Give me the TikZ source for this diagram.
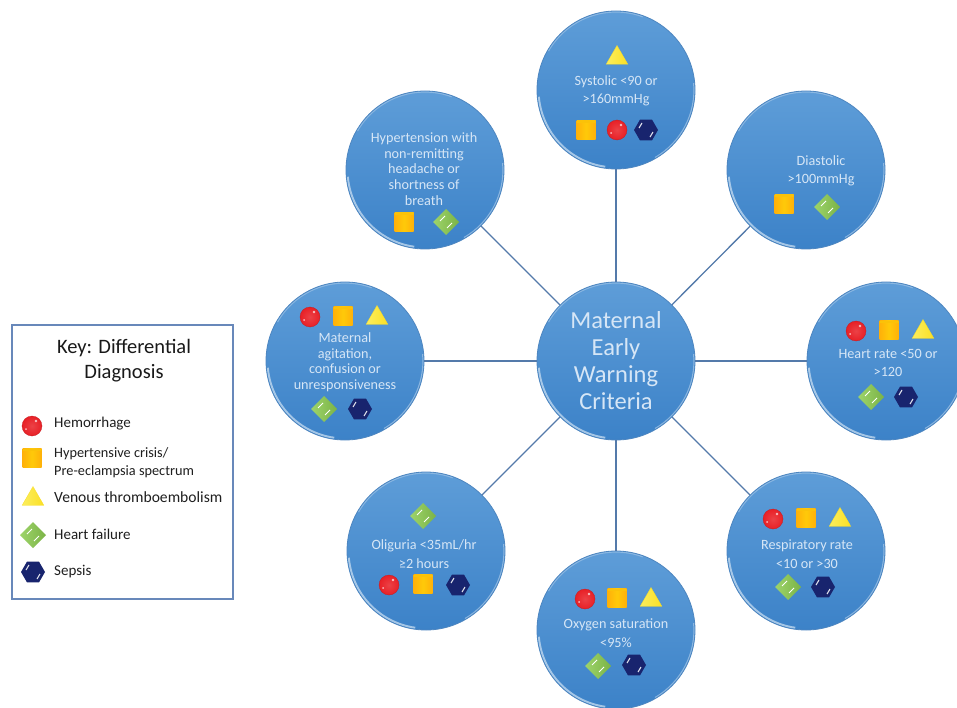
\documentclass[tikz,border=0pt]{standalone}
\usepackage{fontspec}
\setmainfont{Carlito}
\usetikzlibrary{shapes.geometric}
\definecolor{rimc}{RGB}{78,134,192}
\definecolor{topc}{RGB}{94,157,216}
\definecolor{botc}{RGB}{60,130,200}
\definecolor{linec}{RGB}{84,122,170}
\definecolor{txtc}{RGB}{214,230,246}
\definecolor{boxc}{RGB}{104,136,186}
\definecolor{redc}{RGB}{232,32,38}
\definecolor{orc}{RGB}{255,192,10}
\definecolor{yelc}{RGB}{250,232,40}
\definecolor{grnc}{RGB}{140,204,80}
\definecolor{navc}{RGB}{24,36,110}
\tikzset{
  x=1pt,y=-1pt,
  crit/.style={circle,minimum size=158pt,inner sep=0pt,top color=topc,bottom color=botc,draw=rimc,line width=0.8pt,
    path picture={
      \draw[white!65!topc,line width=2pt,opacity=.75]
        ([shift={(185:77.5pt)}]path picture bounding box.center) arc[start angle=185,end angle=262,radius=77.5pt];
      \draw[white!55!topc,line width=1.2pt,opacity=.6]
        ([shift={(5:78pt)}]path picture bounding box.center) arc[start angle=5,end angle=-60,radius=78pt];
      \draw[white!55!topc,line width=1.2pt,opacity=.5]
        ([shift={(150:78pt)}]path picture bounding box.center) arc[start angle=150,end angle=70,radius=78pt];
    }},
  conn/.style={draw=linec,line width=1.3pt},
  ctext/.style={text=txtc,align=center,font=\fontsize{14.2}{18.5}\selectfont,inner sep=0pt},
  sym/.style={inner sep=0pt,outer sep=0pt},
  mred/.style={sym,circle,minimum size=20pt,shading=radial,inner color=redc!85!white,outer color=redc,draw=redc!85!black,line width=.3pt,
    path picture={\fill[white,opacity=.7] ([shift={(4pt,5pt)}]path picture bounding box.center) circle[radius=1.4pt];
      \fill[white,opacity=.7] ([shift={(-6pt,-3pt)}]path picture bounding box.center) circle[radius=1pt];}},
  morg/.style={sym,rectangle,minimum size=19pt,left color=orc!92!red,right color=orc!92!red,middle color=orc!85!yellow,
    path picture={\fill[yellow!55!orange] ([shift={(-9.5pt,7pt)}]path picture bounding box.center) rectangle ++(19pt,2.5pt);}},
  myel/.style={sym,regular polygon,regular polygon sides=3,minimum size=25pt,left color=yelc!75!white,right color=yelc!92!orange,draw=yelc!90!orange,line width=.3pt},
  mgrn/.style={sym,diamond,minimum width=26pt,minimum height=26pt,left color=grnc!85!white,right color=grnc!88!black,
    path picture={\draw[white,line width=1pt] ([shift={(-6pt,1pt)}]path picture bounding box.center) -- ++(5pt,5pt);
      \draw[white,line width=1pt] ([shift={(1pt,-6pt)}]path picture bounding box.center) -- ++(5pt,5pt);}},
  mnav/.style={sym,regular polygon,regular polygon sides=6,minimum size=24pt,fill=navc,
    path picture={\draw[white!85!navc,line width=1.1pt] ([shift={(-7pt,2pt)}]path picture bounding box.center) -- ++(3pt,5pt);
      \draw[white!85!navc,line width=1.1pt] ([shift={(4pt,-7pt)}]path picture bounding box.center) -- ++(3pt,5pt);}},
  keybox/.style={rectangle,draw=boxc,line width=1.2pt,fill=white,minimum width=221pt,minimum height=274pt,inner sep=0pt},
  keytitle/.style={align=center,font=\fontsize{20.5}{25}\selectfont,text=black!90,inner sep=0pt},
  keytext/.style={anchor=west,align=left,font=\fontsize{15}{18}\selectfont,text=black!88,inner sep=0pt},
}
\begin{document}
\begin{tikzpicture}
\useasboundingbox (0,0) rectangle (957,708);
% circles
\node[crit] (ctr) at (616,361) {};
\node[crit] (top) at (616,90) {};
\node[crit] (dia) at (806,170) {};
\node[crit] (hr) at (886,361) {};
\node[crit] (rr) at (806,551) {};
\node[crit] (oxy) at (616,630) {};
\node[crit] (oli) at (426,551) {};
\node[crit] (agi) at (345,361) {};
\node[crit] (hyp) at (425,170) {};
% connectors
\foreach \n in {top,dia,hr,rr,oxy,oli,agi,hyp}{\draw[conn] (ctr) -- (\n);}
% centre text
\node[ctext,font=\fontsize{24.5}{27}\selectfont] (ctrt) at (616,361) {Maternal\\Early\\Warning\\Criteria};
% top
\node[myel] (t1) at (617,58) {};
\node[ctext] (t2) at (616,91) {Systolic <90 or\\>160mmHg};
\node[morg] (t3) at (586,130) {};
\node[mred] (t4) at (617,130) {};
\node[mnav] (t5) at (646,130) {};
% diastolic
\node[ctext] (d1) at (821,171) {Diastolic\\>100mmHg};
\node[morg] (d2) at (784,204) {};
\node[mgrn] (d3) at (827,207) {};
% heart rate
\node[mred] (h1) at (856,331) {};
\node[morg] (h2) at (889,330) {};
\node[myel] (h3) at (923,332) {};
\node[ctext] (h4) at (888,363) {Heart rate <50 or\\>120};
\node[mgrn] (h5) at (871,397) {};
\node[mnav] (h6) at (906,397) {};
% resp
\node[mred] (r1) at (773,519) {};
\node[morg] (r2) at (806,518) {};
\node[myel] (r3) at (840,520) {};
\node[ctext] (r4) at (807,554) {Respiratory rate\\<10 or >30};
\node[mgrn] (r5) at (788,587) {};
\node[mnav] (r6) at (823,587) {};
% oxygen
\node[mred] (o1) at (585,599) {};
\node[morg] (o2) at (617,598) {};
\node[myel] (o3) at (651,600) {};
\node[ctext] (o4) at (616,633) {Oxygen saturation\\<95\%};
\node[mgrn] (o5) at (598,666) {};
\node[mnav] (o6) at (634,665) {};
% oliguria
\node[mgrn] (l1) at (423,516) {};
\node[ctext] (l2) at (424,554) {Oliguria <35mL/hr\\≥2 hours};
\node[mred] (l3) at (389,585) {};
\node[morg] (l4) at (423,584) {};
\node[mnav] (l5) at (458,585) {};
% agitation
\node[mred] (a1) at (310,317) {};
\node[morg] (a2) at (343,316) {};
\node[myel] (a3) at (377,318) {};
\node[ctext,font=\fontsize{14.2}{15.5}\selectfont] (a4) at (345,362) {Maternal\\agitation,\\confusion or\\unresponsiveness};
\node[mgrn] (a5) at (324,409) {};
\node[mnav] (a6) at (360,409) {};
% hypertension
\node[ctext,font=\fontsize{14.2}{15.8}\selectfont] (y1) at (424,169) {Hypertension with\\non-remitting\\headache or\\shortness of\\breath};
\node[morg] (y2) at (404,222) {};
\node[mgrn] (y3) at (446,222) {};
% key
\node[keybox] (key) at (122.5,462) {};
\node[keytitle] (kt) at (124,361) {Key: Differential\\Diagnosis};
\node[mred] (k1) at (32,426) {};
\node[keytext] (k1t) at (54,424) {Hemorrhage};
\node[morg] (k2) at (32,458) {};
\node[keytext,font=\fontsize{14.3}{18}\selectfont] (k2t) at (54,463) {Hypertensive crisis/\\Pre-eclampsia spectrum};
\node[myel] (k3) at (33,499) {};
\node[keytext,font=\fontsize{15.6}{18}\selectfont] (k3t) at (54,497) {Venous thromboembolism};
\node[mgrn] (k4) at (33,535) {};
\node[keytext] (k4t) at (54,534) {Heart failure};
\node[mnav] (k5) at (33,572) {};
\node[keytext] (k5t) at (54,572) {Sepsis};
\end{tikzpicture}
\end{document}
